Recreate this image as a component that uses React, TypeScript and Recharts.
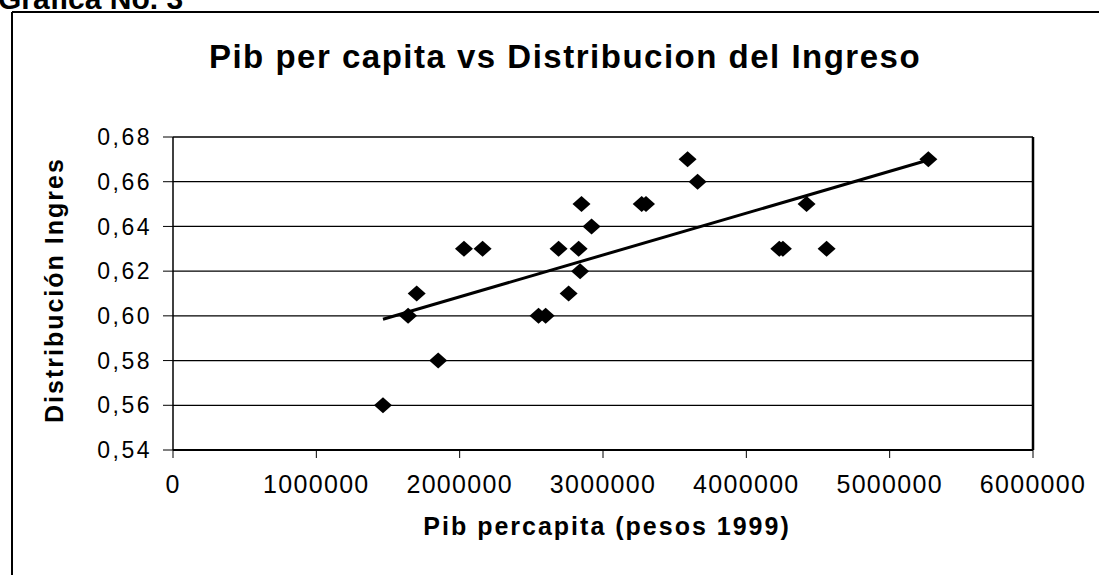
import React from 'react';
import { ScatterChart, Scatter, XAxis, YAxis, CartesianGrid, ReferenceLine } from 'recharts';

const pibX = [1465000, 1640000, 1700000, 1850000, 2030000, 2160000, 2550000, 2600000, 2690000, 2760000, 2830000, 2840000, 2850000, 2920000, 3270000, 3300000, 3590000, 3660000, 4230000, 4255000, 4420000, 4560000, 5270000];
const distY = [0.56, 0.60, 0.61, 0.58, 0.63, 0.63, 0.60, 0.60, 0.63, 0.61, 0.63, 0.62, 0.65, 0.64, 0.65, 0.65, 0.67, 0.66, 0.63, 0.63, 0.65, 0.63, 0.67];
const trendX = [1465000, 5270000];
const trendY = [0.5985, 0.6697];
const xTicks = [0, 1000000, 2000000, 3000000, 4000000, 5000000, 6000000];
const yTicks = [0.54, 0.56, 0.58, 0.60, 0.62, 0.64, 0.66, 0.68];

const points = pibX.map((x, i) => ({ x, y: distY[i] }));
const trend = trendX.map((x, i) => ({ x, y: trendY[i] }));

const FONT = '"Liberation Sans", Arial, sans-serif';

const Diamond = (props: any) => {
  const { cx, cy } = props;
  if (cx == null || cy == null) return <g />;
  const dx = 9, dy = 8;
  return <polygon points={`${cx - dx},${cy} ${cx},${cy - dy} ${cx + dx},${cy} ${cx},${cy + dy}`} fill="#000" />;
};

const NoShape = () => <g />;

export default function App() {
  return (
    <div style={{ position: 'absolute', left: 0, top: 0, width: 1099, height: 575, background: '#fff', overflow: 'hidden' }}>
      <ScatterChart width={1099} height={575} margin={{ top: 137, right: 66, left: 0, bottom: 65 }}>
        <CartesianGrid vertical={false} stroke="#000" strokeWidth={1.3} />
        <XAxis
          type="number"
          dataKey="x"
          domain={[0, 6000000]}
          ticks={xTicks}
          tickFormatter={(v: number) => String(v)}
          height={60}
          tickSize={8}
          tickMargin={17}
          stroke="#000"
          axisLine={{ stroke: '#000', strokeWidth: 2 }}
          tickLine={{ stroke: '#000' }}
          tick={{ fill: '#000', fontSize: 25, fontFamily: FONT, letterSpacing: 1.3 }}
          interval={0}
          allowDataOverflow
        />
        <YAxis
          type="number"
          dataKey="y"
          domain={[0.54, 0.68]}
          ticks={yTicks}
          tickFormatter={(v: number) => v.toFixed(2).replace('.', ',')}
          width={173}
          tickSize={10}
          tickMargin={11}
          axisLine={{ stroke: '#000', strokeWidth: 1.5 }}
          tickLine={{ stroke: '#000' }}
          tick={{ fill: '#000', fontSize: 23, fontFamily: FONT, letterSpacing: 2.5 }}
          interval={0}
          allowDataOverflow
        />
        <ReferenceLine x={6000000} stroke="#000" strokeWidth={2.5} ifOverflow="visible" />
        <Scatter data={points} fill="#000" shape={Diamond} isAnimationActive={false} />
        <Scatter data={trend} fill="#000" shape={NoShape} line={{ stroke: '#000', strokeWidth: 3 }} lineType="joint" isAnimationActive={false} />
      </ScatterChart>
      <svg width={1099} height={575} style={{ position: 'absolute', left: 0, top: 0, pointerEvents: 'none' }}>
        <line x1={12} y1={12} x2={1099} y2={12} stroke="#000" strokeWidth={2} />
        <line x1={12} y1={12} x2={12} y2={575} stroke="#000" strokeWidth={2} />
        <text x={-2} y={9} fontFamily={FONT} fontWeight="bold" fontSize={30} fill="#000">Grafica No. 3</text>
        <text x={565} y={68} textAnchor="middle" fontFamily={FONT} fontWeight="bold" fontSize={33} letterSpacing={1.5} fill="#000">Pib per capita vs Distribucion del Ingreso</text>
        <text x={607} y={535} textAnchor="middle" fontFamily={FONT} fontWeight="bold" fontSize={25} letterSpacing={2} fill="#000">Pib percapita (pesos 1999)</text>
        <defs>
          <clipPath id="ylabclip">
            <rect x={0} y={158} width={120} height={270} />
          </clipPath>
        </defs>
        <g clipPath="url(#ylabclip)">
          <text transform="translate(63,423) rotate(-90)" x={0} y={0} fontFamily={FONT} fontWeight="bold" fontSize={25} letterSpacing={2} fill="#000">Distribución Ingreso</text>
        </g>
      </svg>
    </div>
  );
}
